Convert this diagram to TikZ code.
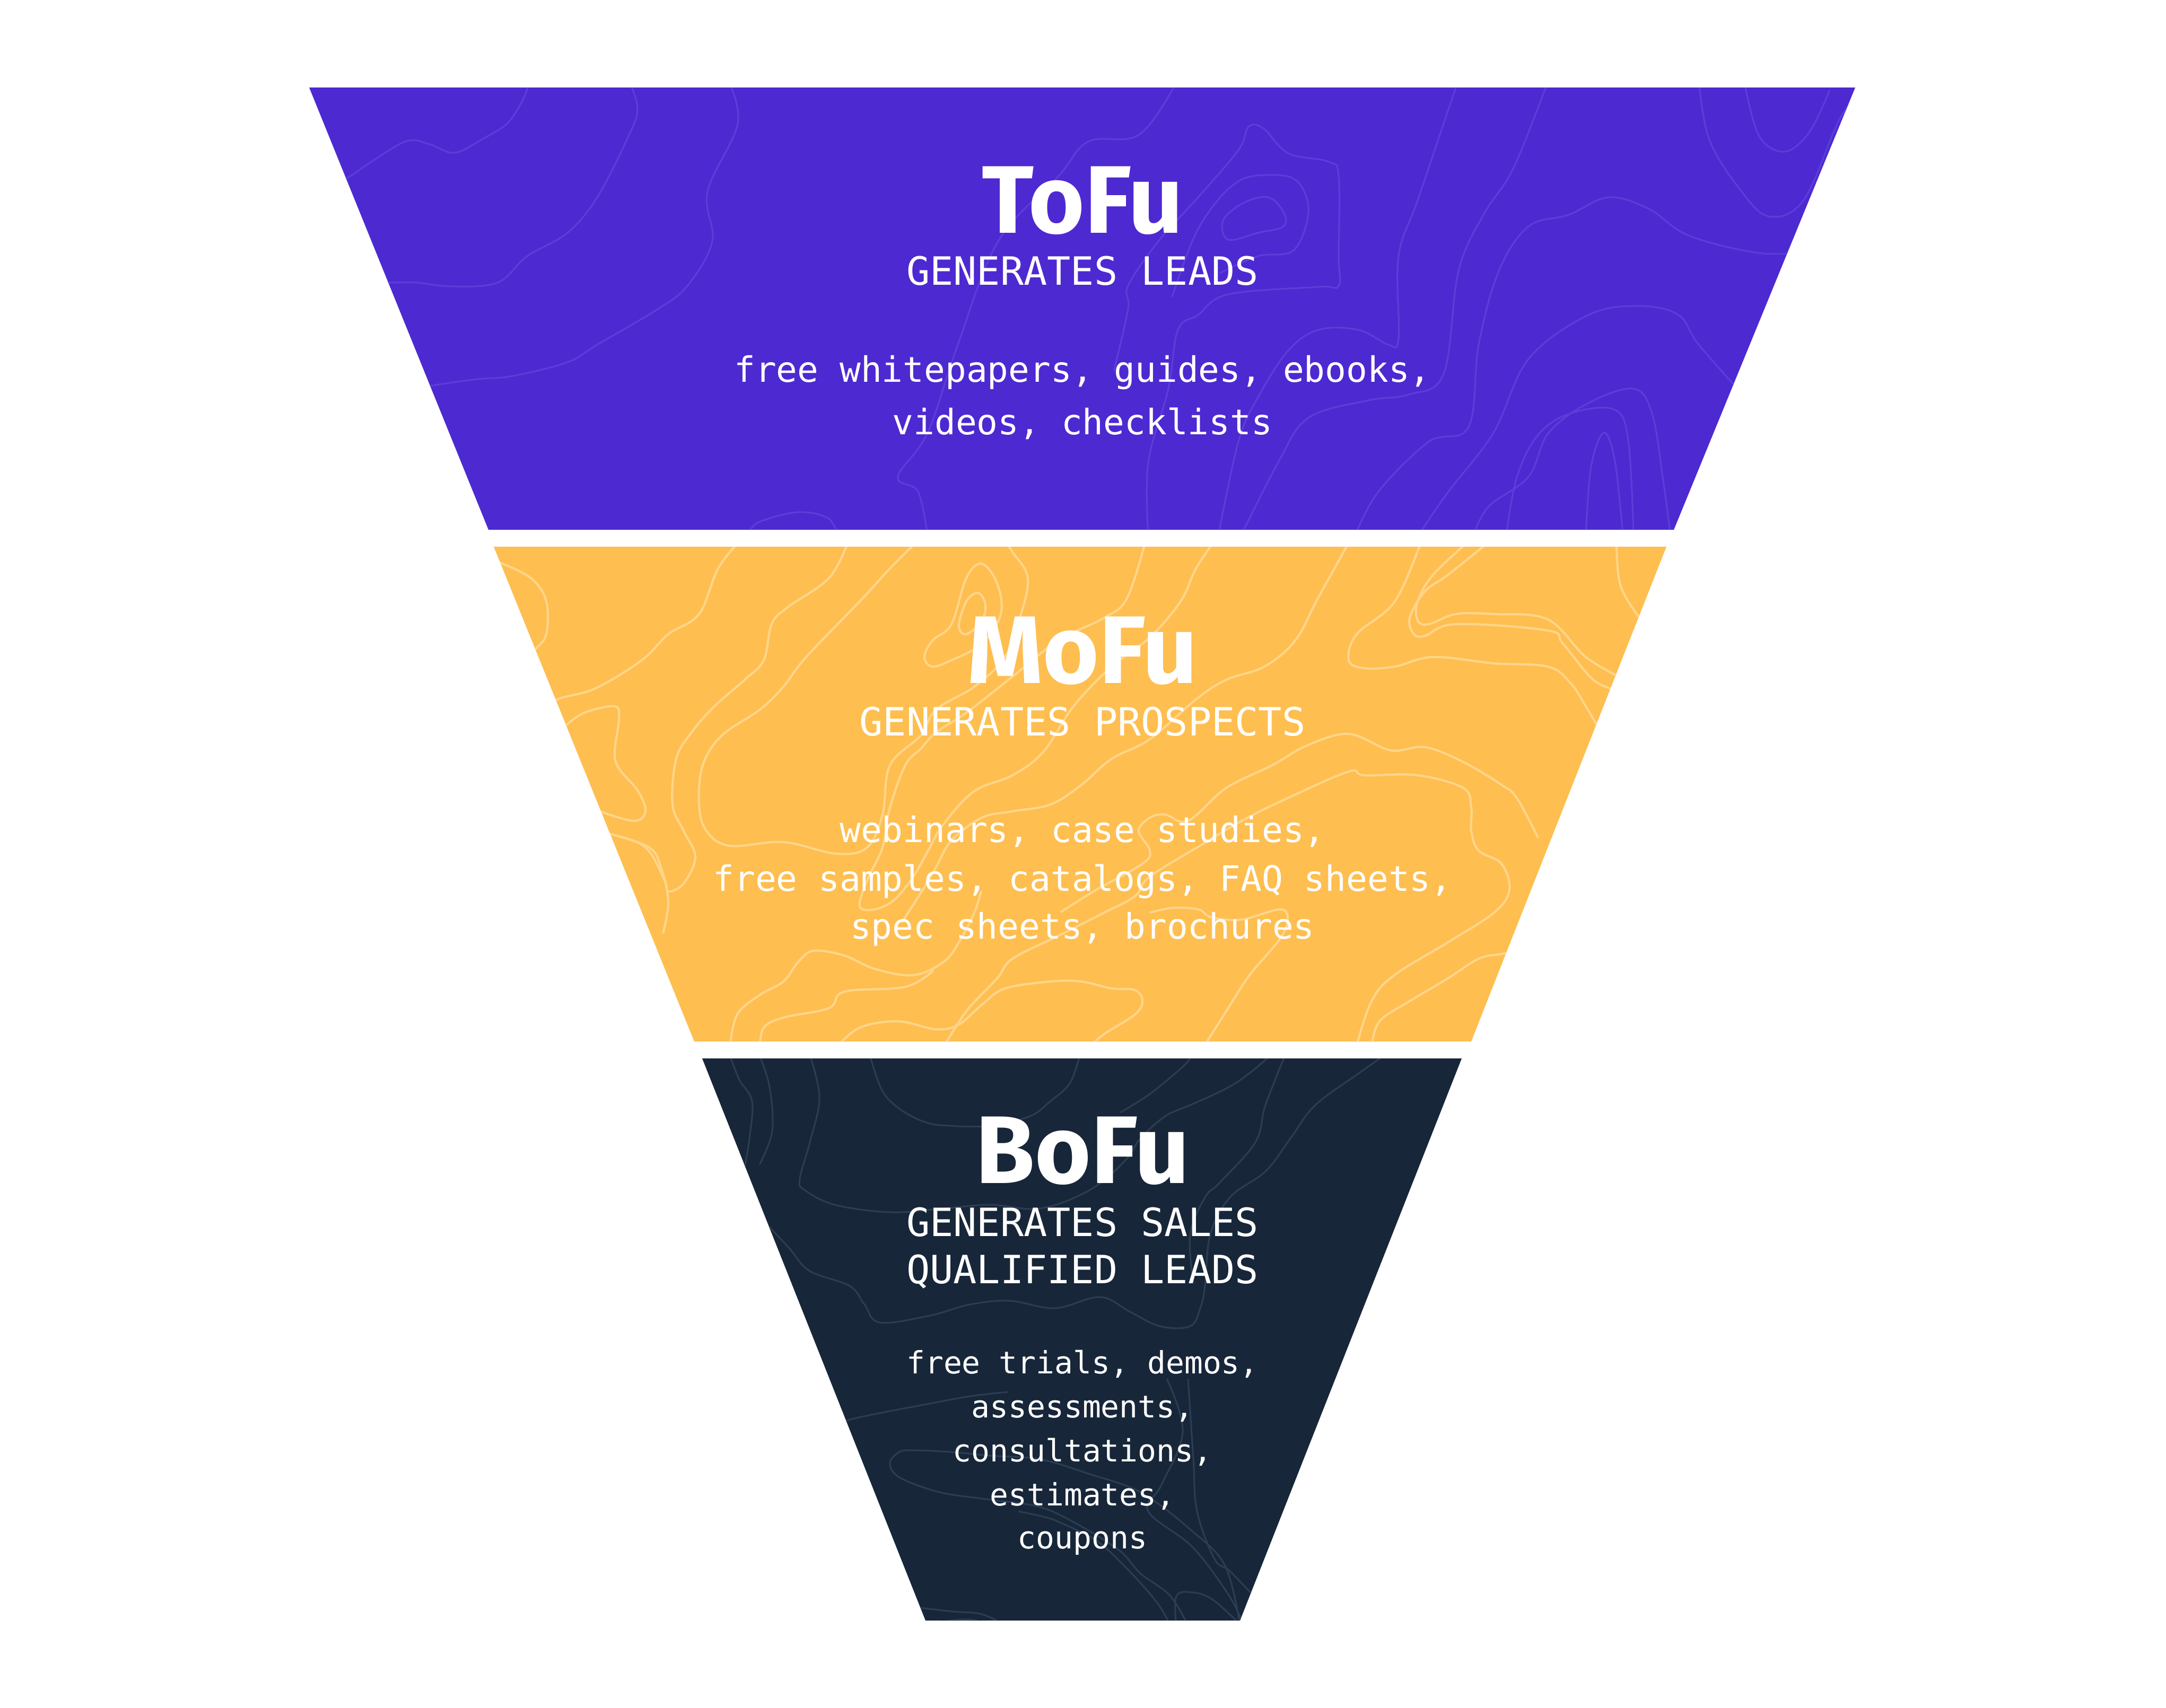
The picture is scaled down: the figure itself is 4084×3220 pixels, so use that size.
\documentclass[tikz,border=0pt]{standalone}
\usepackage{fontspec}
\newfontfamily\titlefont{Fira Sans}
\newfontfamily\monofont{DejaVu Sans Mono}
\definecolor{tofu}{HTML}{4D29D1}
\definecolor{tofuline}{HTML}{5C3DD9}
\definecolor{mofu}{HTML}{FEBE50}
\definecolor{mofuline}{HTML}{FFD589}
\definecolor{bofu}{HTML}{172639}
\definecolor{bofuline}{HTML}{2C3D52}
\tikzset{
  titletext/.style={anchor=base, inner sep=0pt, text=white, font=\titlefont\bfseries\fontsize{51.5}{60}\selectfont},
  subtext/.style={anchor=base, inner sep=0pt, text=white, font=\monofont\fontsize{20.9}{25}\selectfont},
  desctext/.style={anchor=base, inner sep=0pt, text=white, font=\monofont\fontsize{18.8}{22}\selectfont},
  smalltext/.style={anchor=base, inner sep=0pt, text=white, font=\monofont\fontsize{16.5}{20}\selectfont},
  topo/.style={line width=0.9pt, smooth, tension=0.6},
  topothick/.style={line width=1.2pt, smooth, tension=0.6},
}
\begin{document}
\begin{tikzpicture}[x=0.01cm,y=-0.01cm]
\fill[white] (0,0) rectangle (4084,3220);
\useasboundingbox (0,0) rectangle (4084,3220);

% ---------------- ToFu ----------------
\fill[tofu] (583,165) -- (3498,165) -- (3156,999) -- (921,999) -- cycle;
\begin{scope}
\clip (583,165) -- (3498,165) -- (3156,999) -- (921,999) -- cycle;
\begin{scope}[draw=tofuline]
\draw[topo] plot coordinates {(600,350) (653,336) (700,305) (767,266) (810,272) (857,288) (910,262) (956,233) (985,190) (1000,150)};
\draw[topo] plot coordinates {(700,535) (739,533) (787,533) (850,540) (938,533) (994,483) (1070,439) (1126,372) (1183,261) (1202,205) (1185,150)};
\draw[topo] plot coordinates {(780,735) (815,727) (900,715) (967,709) (1070,683) (1126,650) (1240,583) (1296,539) (1343,455) (1334,361) (1391,233) (1372,150)};
\draw[topo] plot coordinates {(2212,150) (2212,167) (2146,255) (2052,267) (1995,333) (1882,455) (1806,650) (1749,816) (1693,899) (1731,927) (1749,1010)};
\draw[topo] plot coordinates {(2100,700) (2127,583) (2127,539) (2184,455) (2259,372) (2335,283) (2354,239) (2382,242) (2429,289) (2505,305) (2524,333) (2524,483) (2524,539) (2486,541) (2316,555) (2259,594) (2221,622) (2203,733) (2165,872) (2165,1010)};
\draw[topo] plot[smooth cycle] coordinates {(2344,383) (2391,372) (2420,400) (2420,427) (2372,439) (2316,452) (2306,416)};
\draw[topo] plot coordinates {(2210,560) (2260,430) (2330,345) (2401,330) (2448,344) (2467,400) (2439,472) (2372,483) (2300,515)};
\draw[topo] plot coordinates {(2750,150) (2675,372) (2637,483) (2637,638) (2618,650) (2561,622) (2486,622) (2429,661) (2372,749) (2335,833) (2297,1010)};
\draw[topo] plot coordinates {(2920,150) (2854,316) (2797,405) (2750,511) (2722,705) (2656,744) (2580,755) (2467,788) (2410,872) (2340,1010)};
\draw[topo] plot coordinates {(3203,150) (3222,261) (3279,355) (3335,408) (3401,377) (3467,228) (3510,170)};
\draw[topo] plot coordinates {(3288,150) (3316,255) (3364,286) (3411,250) (3450,170)};
\draw[topo] plot coordinates {(3420,475) (3316,477) (3184,444) (3109,394) (3033,372) (2958,405) (2882,427) (2826,511) (2788,650) (2769,805) (2694,833) (2599,927) (2555,1010)};
\draw[topo] plot coordinates {(3300,760) (3203,650) (3165,594) (3090,577) (2995,594) (2882,677) (2816,816) (2731,927) (2674,1010)};
\draw[topo] plot coordinates {(2778,1010) (2807,955) (2882,899) (2920,816) (2995,760) (3080,733) (3115,780) (3135,900) (3150,1010)};
\draw[topo] plot coordinates {(2840,1010) (2860,900) (2900,820) (2960,780) (3043,772) (3070,830) (3080,1010)};
\draw[topo] plot coordinates {(2990,1010) (3000,880) (3024,816) (3045,870) (3060,1010)};
\draw[topo] plot coordinates {(1410,1010) (1430,985) (1504,966) (1561,977) (1580,1010)};
\end{scope}
\end{scope}

% ---------------- MoFu ----------------
\fill[mofu] (931,1031) -- (3142,1031) -- (2774,1964) -- (1309,1964) -- cycle;
\begin{scope}
\clip (931,1031) -- (3142,1031) -- (2774,1964) -- (1309,1964) -- cycle;
\begin{scope}[draw=mofuline]
\draw[topothick] plot coordinates {(940,1060) (1001,1090) (1030,1134) (1030,1196) (1008,1227) (990,1260)};
\draw[topothick] plot coordinates {(1395,1020) (1354,1072) (1318,1158) (1260,1196) (1210,1245) (1123,1298) (1051,1319) (1000,1350)};
\draw[topothick] plot coordinates {(1600,1020) (1563,1090) (1484,1146) (1455,1177) (1440,1245) (1404,1282) (1347,1332) (1304,1381) (1275,1431) (1268,1517) (1289,1567) (1311,1616) (1289,1666) (1260,1681) (1253,1660) (1217,1598) (1152,1573) (1100,1560)};
\draw[topothick] plot coordinates {(1730,1020) (1678,1072) (1621,1134) (1520,1239) (1477,1295) (1433,1338) (1361,1387) (1325,1443) (1318,1517) (1332,1567) (1376,1595) (1477,1588) (1577,1610) (1635,1598) (1664,1536) (1678,1443) (1736,1387) (1765,1338) (1837,1295) (1895,1239) (1923,1165) (1938,1090) (1909,1041) (1895,1020)};
\draw[topothick] plot[smooth cycle] coordinates {(1851,1063) (1880,1100) (1887,1158) (1851,1214) (1794,1245) (1758,1257) (1743,1239) (1758,1208) (1794,1177) (1822,1090)};
\draw[topothick] plot[smooth cycle] coordinates {(1844,1118) (1858,1140) (1851,1171) (1822,1196) (1808,1180) (1822,1134)};
\draw[topothick] plot coordinates {(2160,1020) (2125,1128) (2082,1165) (1995,1208) (1909,1276) (1822,1344) (1765,1381) (1736,1412) (1707,1443) (1678,1523) (1664,1598) (1635,1660) (1621,1709) (1649,1715) (1686,1697) (1722,1653) (1750,1604) (1779,1554) (1837,1492) (1909,1462) (1967,1418) (2024,1332) (2096,1257) (2168,1202) (2226,1134) (2255,1072) (2290,1020)};
\draw[topothick] plot coordinates {(2545,1020) (2485,1128) (2442,1208) (2384,1257) (2312,1282) (2255,1319) (2168,1394) (2096,1431) (2039,1480) (1981,1517) (1909,1530) (1851,1542) (1794,1585) (1765,1635) (1736,1684) (1700,1740)};
\draw[topothick] plot coordinates {(2000,1720) (2067,1678) (2154,1629) (2168,1604) (2147,1567) (2168,1542) (2197,1536) (2240,1548) (2312,1486) (2399,1443) (2464,1406) (2543,1384) (2622,1415) (2687,1409) (2759,1437) (2831,1480) (2860,1505) (2900,1580)};
\draw[topothick] plot coordinates {(1779,1975) (1822,1907) (1880,1845) (1909,1808) (1995,1765) (2082,1721) (2140,1690) (2168,1653) (2269,1591) (2341,1548) (2428,1505) (2543,1455) (2572,1462) (2673,1462) (2759,1486) (2774,1523) (2774,1567) (2788,1604) (2831,1629) (2846,1678) (2817,1721) (2730,1777) (2629,1839) (2586,1888) (2557,1975)};
\draw[topothick] plot coordinates {(2680,1020) (2630,1134) (2558,1196) (2543,1245) (2572,1260) (2630,1257) (2702,1239) (2817,1251) (2918,1257) (2961,1288) (2990,1332) (3030,1400)};
\draw[topothick] plot coordinates {(2810,1020) (2730,1084) (2687,1115) (2658,1165) (2666,1196) (2687,1199) (2745,1177) (2918,1189) (2947,1214) (3004,1282) (3048,1301)};
\draw[topothick] plot coordinates {(2770,1020) (2702,1084) (2673,1134) (2673,1170) (2694,1177) (2745,1158) (2817,1158) (2918,1168) (2990,1239) (3060,1280)};
\draw[topothick] plot coordinates {(3048,1020) (3055,1103) (3091,1165)};
\draw[topothick] plot coordinates {(1376,1975) (1390,1913) (1433,1876) (1477,1851) (1505,1814) (1534,1793) (1592,1802) (1649,1827) (1722,1839) (1779,1814) (1808,1777) (1837,1721) (1850,1680)};
\draw[topothick] plot coordinates {(1433,1975) (1440,1938) (1477,1919) (1563,1901) (1592,1870) (1707,1861) (1760,1830)};
\draw[topothick] plot coordinates {(1577,1975) (1621,1938) (1693,1926) (1765,1941) (1808,1932) (1851,1895) (1895,1864) (1981,1851) (2039,1851) (2096,1864) (2140,1867) (2154,1888) (2140,1913) (2082,1950) (2053,1975)};
\draw[topothick] plot coordinates {(2168,1721) (2212,1712) (2260,1715) (2284,1730) (2341,1734) (2413,1715) (2428,1734) (2413,1771) (2356,1839) (2312,1907) (2269,1975)};
\draw[topothick] plot coordinates {(2880,1790) (2831,1799) (2788,1808) (2730,1845) (2658,1888) (2601,1926) (2586,1975)};
\draw[topothick] plot coordinates {(1131,1530) (1195,1548) (1217,1530) (1203,1492) (1167,1449) (1159,1418) (1167,1356) (1159,1332) (1102,1344) (1066,1369)};
\draw[topothick] plot coordinates {(1152,1573) (1224,1598) (1246,1635) (1260,1700) (1250,1760)};
\end{scope}
\end{scope}

% ---------------- BoFu ----------------
\fill[bofu] (1324,1996) -- (2756,1996) -- (2338,3056) -- (1745,3056) -- cycle;
\begin{scope}
\clip (1324,1996) -- (2756,1996) -- (2338,3056) -- (1745,3056) -- cycle;
\begin{scope}[draw=bofuline]
\draw[topo] plot coordinates {(1376,1990) (1394,2036) (1418,2077) (1413,2147) (1404,2202)};
\draw[topo] plot coordinates {(1432,1990) (1451,2050) (1456,2133) (1432,2196)};
\draw[topo] plot coordinates {(1640,1990) (1663,2056) (1696,2091) (1744,2116) (1791,2123) (1866,2123) (1942,2105) (1980,2077) (2017,2043) (2036,1990)};
\draw[topo] plot coordinates {(1527,1990) (1545,2070) (1527,2154) (1508,2223) (1517,2244) (1574,2272) (1678,2286) (1770,2280) (1866,2272) (1961,2279) (2055,2244) (2121,2189) (2150,2147) (2197,2105) (2244,2084) (2291,2063) (2329,2043) (2367,2015) (2395,1990)};
\draw[topo] plot coordinates {(2112,2098) (2168,2063) (2234,2008) (2245,1990)};
\draw[topo] plot coordinates {(2423,1990) (2386,2084) (2367,2154) (2300,2230) (2272,2258) (2244,2328) (2250,2420)};
\draw[topo] plot coordinates {(1451,2314) (1489,2355) (1527,2397) (1602,2425) (1630,2460) (1659,2494) (1753,2481) (1829,2460) (1904,2453) (1989,2467) (2074,2446) (2131,2474) (2187,2501) (2244,2501) (2263,2467) (2272,2425) (2282,2328) (2319,2258) (2386,2209) (2433,2147) (2480,2084) (2565,2022) (2610,1990)};
\draw[topo] plot coordinates {(1560,2690) (1611,2675) (1678,2661) (1753,2647) (1829,2633) (1900,2625)};
\draw[topo] plot coordinates {(2338,3066) (2310,2953) (2244,2884) (2150,2814) (2055,2780) (1961,2752) (1866,2745) (1791,2738) (1720,2735) (1696,2738) (1678,2759) (1696,2786) (1772,2814) (1866,2828) (1961,2842) (2036,2877) (2112,2925) (2150,2967) (2206,3009) (2240,3066)};
\draw[topo] plot coordinates {(1920,2850) (1966,2860) (1996,2870) (2065,2904) (2119,2952) (2180,3020) (2207,3066)};
\draw[topo] plot coordinates {(2200,2600) (2230,2700) (2190,2800) (2165,2850) (2249,2918) (2318,3010) (2345,3066)};
\draw[topo] plot coordinates {(2240,2600) (2250,2750) (2257,2850) (2290,2940) (2318,2962) (2364,3010)};
\draw[topo] plot coordinates {(2218,3066) (2218,3010) (2249,3003) (2287,3017) (2341,3066)};
\draw[topo] plot coordinates {(1700,3025) (1736,3032) (1797,3039) (1851,3044) (1897,3066)};
\draw[topo] plot coordinates {(1740,3066) (1759,3060) (1828,3054) (1870,3066)};
\end{scope}
\end{scope}

% ---------------- Texts ----------------
\node[titletext] (tofutitle) at (2041,439) {ToFu};
\node[subtext] (tofusub) at (2041,537) {GENERATES LEADS};
\node[desctext] (tofud1) at (2041,720) {free whitepapers, guides, ebooks,};
\node[desctext] (tofud2) at (2041,819) {videos, checklists};

\node[titletext] (mofutitle) at (2041,1288) {MoFu};
\node[subtext] (mofusub) at (2041,1387) {GENERATES PROSPECTS};
\node[desctext] (mofud1) at (2041,1588) {webinars, case studies,};
\node[desctext] (mofud2) at (2041,1680) {free samples, catalogs, FAQ sheets,};
\node[desctext] (mofud3) at (2041,1770) {spec sheets, brochures};

\node[titletext] (bofutitle) at (2041,2231) {BoFu};
\node[subtext] (bofusub1) at (2041,2331) {GENERATES SALES};
\node[subtext] (bofusub2) at (2041,2420) {QUALIFIED LEADS};
\node[smalltext] (bofud1) at (2041,2590) {free trials, demos,};
\node[smalltext] (bofud2) at (2041,2673) {assessments,};
\node[smalltext] (bofud3) at (2041,2756) {consultations,};
\node[smalltext] (bofud4) at (2041,2839) {estimates,};
\node[smalltext] (bofud5) at (2041,2920) {coupons};
\end{tikzpicture}
\end{document}
